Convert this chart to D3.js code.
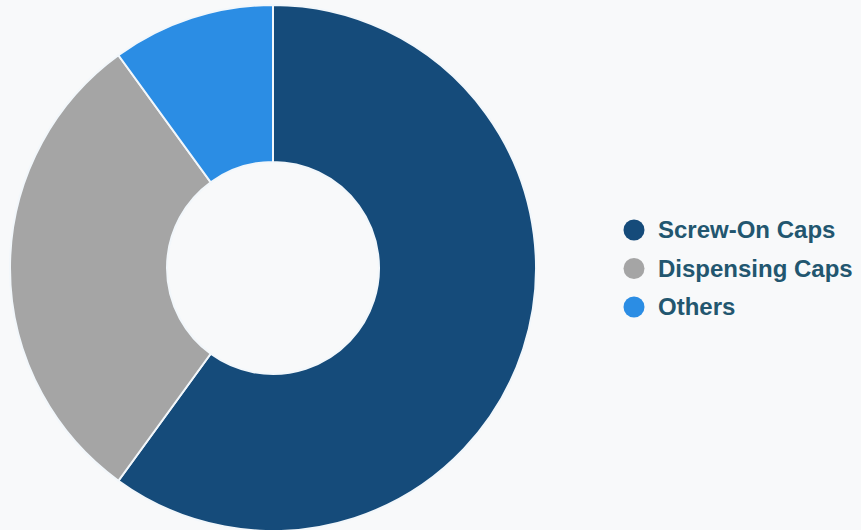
<!DOCTYPE html>
<html><head><meta charset="utf-8">
<script src="https://cdn.jsdelivr.net/npm/d3@7"></script>
<style>body{margin:0;background:#f8f9fa;}svg{display:block;}</style>
</head><body><svg id="c" width="861" height="530"></svg>
<script>
const categories = ["Screw-On Caps", "Dispensing Caps", "Others"];
const values = [60, 30, 10];
const colors = ["#154b7a", "#a5a5a5", "#2b8de4"];

const svg = d3.select("#c");
svg.append("rect").attr("width",861).attr("height",530).attr("fill","#f8f9fa");
const cx = 273, cy = 268, R = 263, r = 106;
const pie = d3.pie().sort(null).value(d => d)(values);
const arc = d3.arc().innerRadius(r).outerRadius(R);
const g = svg.append("g").attr("transform", `translate(${cx},${cy})`);
g.selectAll("path").data(pie).join("path")
  .attr("d", arc).attr("fill", (d,i) => colors[i])
  .attr("stroke", "#f2f7fb").attr("stroke-width", 2);

const color = d3.scaleOrdinal().domain(categories).range(colors);
const leg = svg.append("g").attr("transform", "translate(634,230)");
const y = d3.scalePoint().domain(categories).range([0, 77]);
const items = leg.selectAll("g").data(categories).join("g")
  .attr("transform", d => `translate(0,${y(d)})`);
items.append("circle").attr("r", 10.5).attr("fill", d => color(d));
items.append("text").attr("x", 24).attr("dy", "0.35em")
  .attr("font-family", "Liberation Sans, Arial, sans-serif").attr("font-weight", "bold")
  .attr("font-size", 24).attr("fill", "#22566f").text(d => d);
</script></body></html>
